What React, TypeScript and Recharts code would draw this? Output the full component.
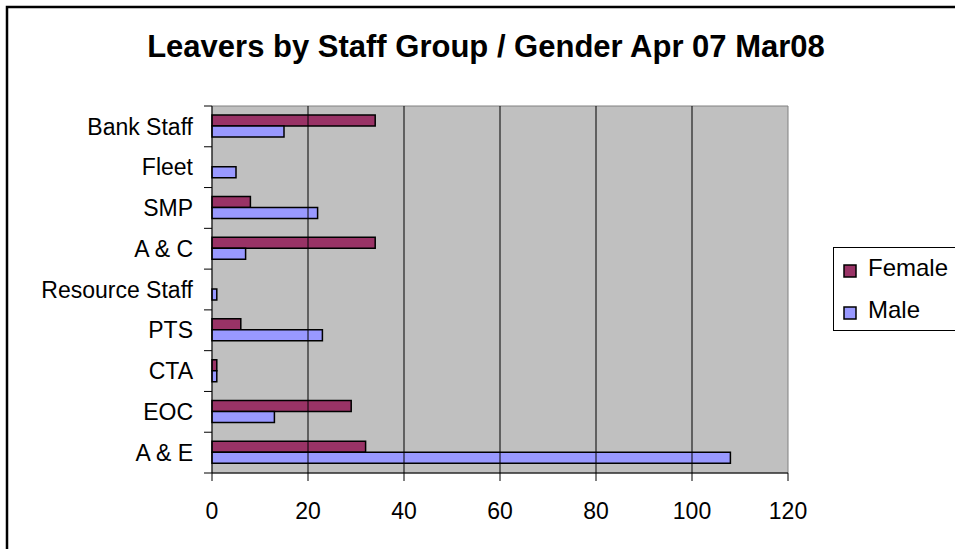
import React from 'react';
import { BarChart, Bar, XAxis, YAxis, ReferenceArea, ReferenceLine } from 'recharts';

const categories = ['Bank Staff', 'Fleet', 'SMP', 'A & C', 'Resource Staff', 'PTS', 'CTA', 'EOC', 'A & E'];
const femaleValues = [34, 0, 8, 34, 0, 6, 1, 29, 32];
const maleValues = [15, 5, 22, 7, 1, 23, 1, 13, 108];
const xTicks = [0, 20, 40, 60, 80, 100, 120];
const seriesNames = ['Female', 'Male'];
const seriesColors = ['#993366', '#9999FF'];
const title = 'Leavers by Staff Group / Gender Apr 07 Mar08';

const data = categories.map((name, i) => ({ name, Female: femaleValues[i], Male: maleValues[i] }));

const W = 955;
const H = 549;
const X_AXIS_H = 30;
const MARGIN = { top: 106, right: 167, bottom: 76 - X_AXIS_H, left: 0 };
const BAND = (H - 106 - 76) / categories.length;
const FONT = '"Liberation Sans", Arial, sans-serif';

const CategoryTick = (props: any) => {
  const { x, y, payload, index } = props;
  return (
    <g>
      <text x={x - 19} y={y} dy="0.355em" textAnchor="end" fontSize={23} fontFamily={FONT} fill="#000">
        {payload.value}
      </text>
      <line x1={x - 8} x2={x} y1={y - BAND / 2} y2={y - BAND / 2} stroke="#000" strokeWidth={1} />
      {index === categories.length - 1 && (
        <line x1={x - 8} x2={x} y1={y + BAND / 2} y2={y + BAND / 2} stroke="#000" strokeWidth={1} />
      )}
    </g>
  );
};

export default function App() {
  return (
    <div style={{ position: 'fixed', left: 0, top: 0, width: W, height: H, overflow: 'hidden', background: '#fff' }}>
      <BarChart
        width={W}
        height={H}
        data={data}
        layout="vertical"
        margin={MARGIN}
        barCategoryGap="22%"
        barGap={0}
      >
        <ReferenceArea x1={0} x2={120} fill="#C0C0C0" fillOpacity={1} stroke="#808080" strokeWidth={1} ifOverflow="extendDomain" />
        {xTicks.filter((t) => t > 0 && t < 120).map((t) => (
          <ReferenceLine key={t} x={t} stroke="#000" strokeWidth={1} />
        ))}
        <XAxis
          type="number"
          domain={[0, 120]}
          ticks={xTicks}
          interval={0}
          height={X_AXIS_H}
          tickSize={8}
          tickMargin={22}
          axisLine={{ stroke: '#000', strokeWidth: 1 }}
          tickLine={{ stroke: '#000', strokeWidth: 1 }}
          tick={{ fill: '#000', fontSize: 23, fontFamily: FONT }}
        />
        <YAxis
          type="category"
          dataKey="name"
          width={212}
          interval={0}
          tickSize={0}
          tickMargin={0}
          tickLine={false}
          axisLine={{ stroke: '#000', strokeWidth: 1 }}
          tick={<CategoryTick />}
        />
        {seriesNames.map((s, i) => (
          <Bar key={s} dataKey={s} fill={seriesColors[i]} stroke="#000" strokeWidth={1.5} isAnimationActive={false} />
        ))}
      </BarChart>
      <svg width={W} height={H} style={{ position: 'absolute', left: 0, top: 0, pointerEvents: 'none' }}>
        <rect x={7} y={7} width={980} height={580} fill="none" stroke="#000" strokeWidth={2.5} />
        <text x={486} y={56.7} textAnchor="middle" fontSize={31} fontWeight="bold" fontFamily={FONT} fill="#000">
          {title}
        </text>
        <rect x={833.5} y={247.5} width={140} height={83} fill="#fff" stroke="#000" strokeWidth={1} />
        {seriesNames.map((s, i) => (
          <g key={s}>
            <rect x={844} y={265 + i * 42} width={12} height={12} fill={seriesColors[i]} stroke="#000" strokeWidth={1.5} />
            <text x={868} y={275.5 + i * 42} fontSize={24} fontFamily={FONT} fill="#000">
              {s}
            </text>
          </g>
        ))}
      </svg>
    </div>
  );
}
